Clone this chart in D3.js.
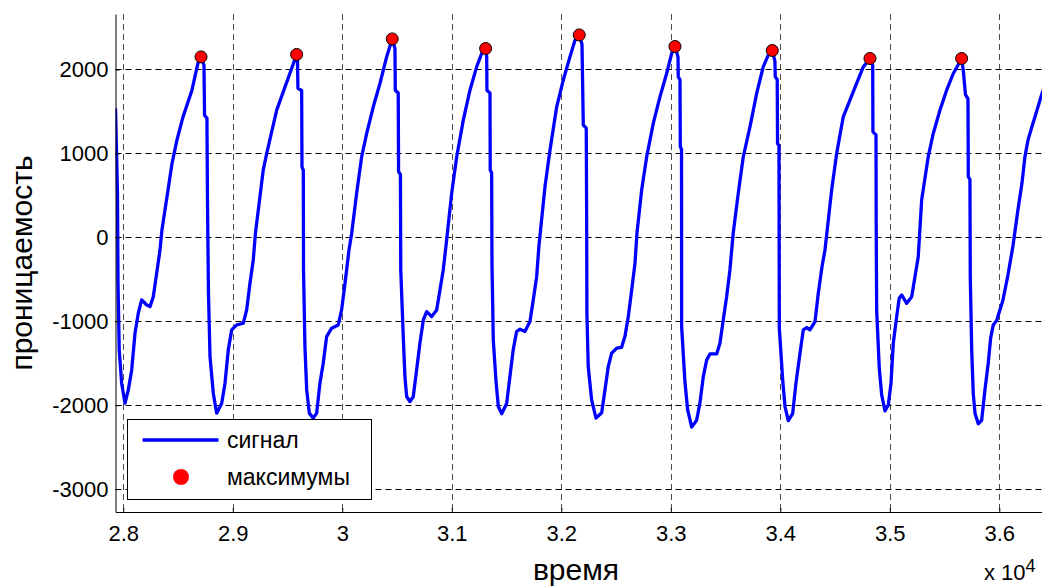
<!DOCTYPE html>
<html>
<head>
<meta charset="utf-8">
<script src="https://cdn.jsdelivr.net/npm/d3@7"></script>
<style>
  body { margin: 0; background: #fff; }
  text { font-family: "Liberation Sans", Arial, sans-serif; fill: #000; }
</style>
</head>
<body>
<div id="canvas"></div>
<script>
// signal samples (time, value)
let signalT = [27929, 27947, 27952, 27963, 27985, 28016, 28046, 28077, 28107, 28137, 28168, 28214, 28244, 28274, 28305, 28335, 28353, 28399, 28445, 28490, 28545, 28627, 28682, 28710,
  28737, 28742, 28764, 28769, 28778, 28792, 28822, 28853, 28899, 28929, 28959, 28990, 29036, 29096, 29127, 29157, 29187, 29207, 29278, 29310, 29401, 29522, 29583,
  29591, 29595, 29629, 29632, 29644, 29646, 29659, 29675, 29699, 29735, 29766, 29796, 29826, 29857, 29903, 29963, 29994, 30025, 30061, 30086, 30131, 30177, 30223, 30283, 30344, 30405, 30456,
  30481, 30484, 30511, 30514, 30531, 30534, 30557, 30572, 30588, 30618, 30648, 30679, 30709, 30740, 30771, 30816, 30862, 30892, 30922, 30953, 30999, 31045, 31105, 31166, 31227, 31273, 31309,
  31319, 31321, 31349, 31351, 31364, 31367, 31379, 31404, 31425, 31456, 31501, 31531, 31561, 31592, 31623, 31668, 31714, 31744, 31775, 31796, 31851, 31897, 31958, 32018, 32079, 32125, 32164,
  32189, 32201, 32228, 32232, 32234, 32246, 32277, 32317, 32369, 32399, 32429, 32460, 32506, 32551, 32581, 32612, 32643, 32673, 32691, 32734, 32780, 32840, 32901, 32962, 33008, 33038,
  33066, 33068, 33084, 33087, 33098, 33099, 33129, 33154, 33191, 33236, 33266, 33297, 33328, 33358, 33419, 33449, 33479, 33510, 33540, 33570, 33616, 33662, 33723, 33784, 33844, 33890, 33927,
  33951, 33954, 33972, 33975, 33988, 33991, 34022, 34043, 34073, 34113, 34143, 34180, 34210, 34241, 34271, 34317, 34347, 34381, 34408, 34469, 34515, 34575, 34636, 34697, 34758, 34819,
  34844, 34846, 34874, 34876, 34880, 34904, 34926, 34956, 34986, 35011, 35032, 35063, 35086, 35108, 35154, 35200, 35230, 35260, 35291, 35351, 35397, 35458, 35519, 35580, 35656,
  35671, 35691, 35714, 35717, 35732, 35735, 35748, 35762, 35778, 35808, 35839, 35869, 35899, 35921, 35945, 35976, 36033, 36079, 36125, 36170, 36207, 36234, 36262, 36298, 36344, 36390, 36426];
let signalV = [1538, 528, -548, -1341, -1738, -1976, -1818, -1580, -1143, -905, -746, -806, -826, -707, -429, -155, 87, 480, 880, 1158, 1432, 1753, 2075, 2150,
  2050, 1455, 1420, 444, -667, -1421, -1857, -2095, -1976, -1738, -1341, -1103, -1044, -1024, -865, -548, -270, 50, 800, 1000, 1515, 1955, 2179,
  2100, 1776, 1750, 837, 800, -389, -1302, -1818, -2095, -2155, -2095, -1738, -1500, -1183, -1083, -1044, -865, -548, -155, 48, 524, 960, 1238, 1555, 1833, 2150, 2364,
  2250, 1753, 1720, 781, 750, -389, -1183, -1659, -1897, -1957, -1900, -1580, -1262, -984, -885, -945, -865, -627, -389, -32, 524, 960, 1396, 1753, 2031, 2190, 2250,
  2150, 1753, 1720, 801, 770, -310, -1222, -1718, -2016, -2103, -1980, -1659, -1341, -1123, -1095, -1123, -1004, -746, -469, -100, 602, 1040, 1555, 1872, 2150, 2349, 2412,
  2300, 1336, 1300, 126, -905, -1540, -1937, -2155, -2090, -1818, -1540, -1381, -1321, -1310, -1183, -945, -627, -310, 48, 563, 960, 1357, 1674, 1952, 2190, 2274,
  2150, 1912, 1880, 1079, 1050, -1064, -1718, -2056, -2262, -2180, -1976, -1659, -1461, -1389, -1389, -1262, -984, -707, -389, 48, 524, 960, 1317, 1714, 2031, 2170, 2226,
  2100, 1912, 1880, 1119, 1090, -1083, -1698, -2016, -2183, -2100, -1738, -1381, -1103, -1075, -1103, -1004, -667, -350, -151, 563, 1000, 1436, 1635, 1833, 2031, 2131,
  2050, 1257, 1220, 126, -865, -1560, -1877, -2068, -2000, -1738, -1262, -945, -726, -687, -786, -707, -469, -230, 444, 960, 1238, 1515, 1753, 1952, 2131,
  1991, 1700, 1650, 721, 690, -469, -1341, -1857, -2095, -2222, -2180, -1818, -1500, -1202, -1044, -992, -750, -450, -100, 325, 643, 960, 1158, 1317, 1515, 1714, 1850];

// detected maxima
let peakT = [28710, 29583, 30456, 31309, 32164, 33038, 33927, 34819, 35656];
let peakV = [2150, 2179, 2364, 2250, 2412, 2274, 2226, 2131, 2131];

let xTicks = [28000, 29000, 30000, 31000, 32000, 33000, 34000, 35000, 36000];
let xTickLabels = ["2.8", "2.9", "3", "3.1", "3.2", "3.3", "3.4", "3.5", "3.6"];
let yTicks = [-3000, -2000, -1000, 0, 1000, 2000];
let yTickLabels = ["-3000", "-2000", "-1000", "0", "1000", "2000"];
let legendLabels = ["сигнал", "максимумы"];

let width = 1042;
let height = 588;
let margin = { top: 14, bottom: 76, left: 115.5, right: 0 };

let escalaX = d3.scaleLinear()
  .domain([27929, 36390])
  .range([margin.left, width - margin.right]);
let escalaY = d3.scaleLinear()
  .domain([-3273, 2661])
  .range([height - margin.bottom, margin.top]);

let svg = d3.select("#canvas")
  .append("svg")
  .attr("width", width)
  .attr("height", height);

svg.append("rect").attr("width", width).attr("height", height).attr("fill", "#fff");

svg.append("clipPath").attr("id", "clip")
  .append("rect")
  .attr("x", margin.left)
  .attr("y", margin.top)
  .attr("width", width - margin.left - margin.right)
  .attr("height", height - margin.top - margin.bottom);

// grid
let grid = svg.append("g")
  .attr("stroke", "#000")
  .attr("stroke-width", 1)
  .attr("stroke-dasharray", "6,4");
grid.selectAll(".gx")
  .data(xTicks)
  .enter()
  .append("line")
  .attr("x1", d => Math.round(escalaX(d)) + 0.5)
  .attr("x2", d => Math.round(escalaX(d)) + 0.5)
  .attr("y1", margin.top)
  .attr("y2", height - margin.bottom)
  .attr("stroke-opacity", 0.7);
grid.selectAll(".gy")
  .data(yTicks)
  .enter()
  .append("line")
  .attr("x1", margin.left)
  .attr("x2", width)
  .attr("y1", d => Math.round(escalaY(d)) + 0.5)
  .attr("y2", d => Math.round(escalaY(d)) + 0.5);

// signal
let linea = d3.line()
  .x((d, i) => escalaX(signalT[i]))
  .y(d => escalaY(d));
svg.append("path")
  .datum(signalV)
  .attr("clip-path", "url(#clip)")
  .attr("d", linea)
  .attr("fill", "none")
  .attr("stroke", "#0000ff")
  .attr("stroke-width", 3.3)
  .attr("stroke-linejoin", "round");

svg.selectAll(".peak")
  .data(peakV)
  .enter()
  .append("circle")
  .attr("cx", (d, i) => escalaX(peakT[i]))
  .attr("cy", d => escalaY(d))
  .attr("r", 6)
  .attr("fill", "#ff0000")
  .attr("stroke", "#000")
  .attr("stroke-width", 1);

// axes
let ejeY = d3.axisLeft(escalaY)
  .tickValues(yTicks)
  .tickFormat((d, i) => yTickLabels[i])
  .tickSizeInner(-4)
  .tickSizeOuter(0)
  .tickPadding(7);
svg.append("g")
  .attr("transform", "translate(" + margin.left + ",0)")
  .call(ejeY);

let ejeX = d3.axisBottom(escalaX)
  .tickValues(xTicks)
  .tickFormat((d, i) => xTickLabels[i])
  .tickSizeInner(-4)
  .tickSizeOuter(0)
  .tickPadding(13);
svg.append("g")
  .attr("transform", "translate(0," + (height - margin.bottom) + ")")
  .call(ejeX);

svg.selectAll(".tick text")
  .attr("font-size", 22)
  .attr("font-family", "Liberation Sans, Arial, sans-serif");
svg.selectAll(".domain, .tick line").attr("stroke", "#000");

svg.append("text")
  .attr("x", 576)
  .attr("y", 580)
  .attr("text-anchor", "middle")
  .attr("font-size", 30)
  .text("время");

svg.append("text")
  .attr("transform", "translate(32,263) rotate(-90)")
  .attr("text-anchor", "middle")
  .attr("font-size", 30)
  .text("проницаемость");

let exp = svg.append("text")
  .attr("x", 984)
  .attr("y", 580)
  .attr("font-size", 22)
  .text("x 10");
exp.append("tspan")
  .attr("dy", -8)
  .attr("font-size", 18)
  .text("4");

// legend
let leyenda = svg.append("g");
leyenda.append("rect")
  .attr("x", 127.5)
  .attr("y", 419.5)
  .attr("width", 244)
  .attr("height", 80)
  .attr("fill", "#fff")
  .attr("stroke", "#000");
leyenda.append("line")
  .attr("x1", 142.5)
  .attr("x2", 218.5)
  .attr("y1", 440)
  .attr("y2", 440)
  .attr("stroke", "#0000ff")
  .attr("stroke-width", 3.3);
leyenda.append("circle")
  .attr("cx", 181)
  .attr("cy", 477)
  .attr("r", 8)
  .attr("fill", "#ff0000");
leyenda.selectAll(".lab")
  .data(legendLabels)
  .enter()
  .append("text")
  .attr("x", 227)
  .attr("y", (d, i) => 448 + i * 37)
  .attr("font-size", 23)
  .text(d => d);
</script>
</body>
</html>
